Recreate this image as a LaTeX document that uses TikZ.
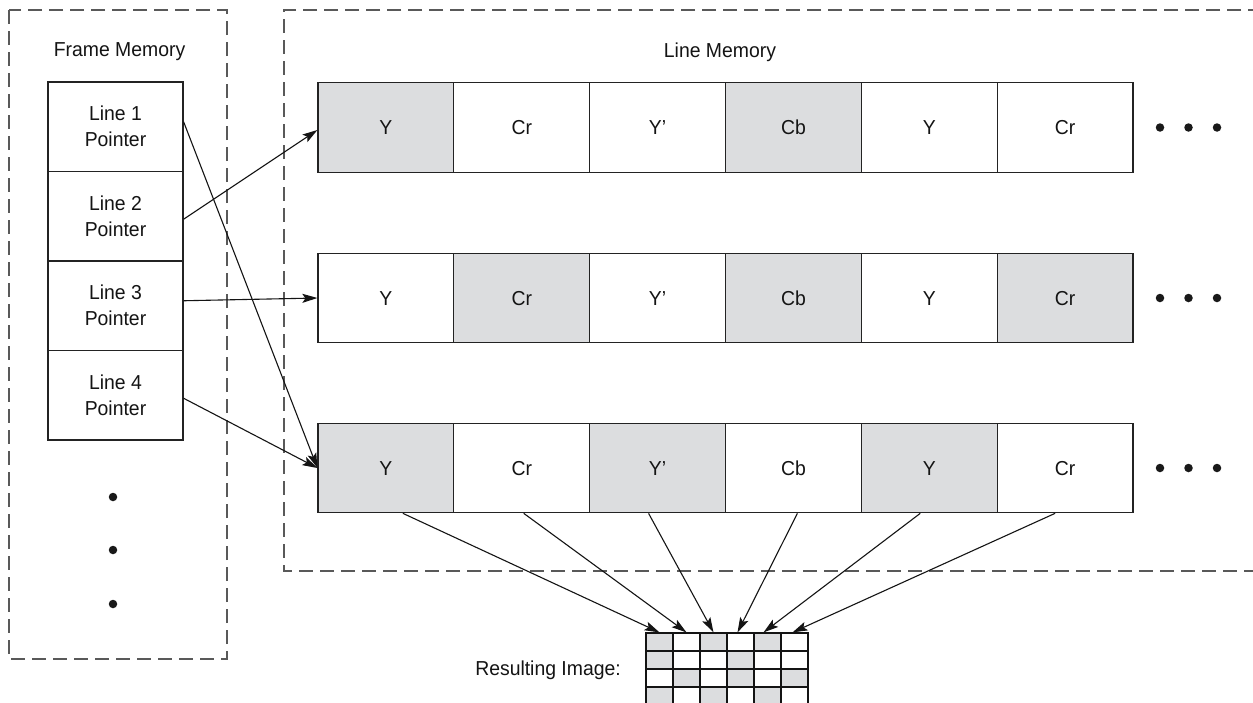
\documentclass[tikz,border=0pt]{standalone}
\usepackage{fontspec}
\setmainfont{Liberation Sans}[FakeStretch=0.96]
\usetikzlibrary{arrows.meta,calc}
\definecolor{cellgray}{RGB}{220,221,223}
\definecolor{edge}{RGB}{35,35,35}
\begin{document}
\begin{tikzpicture}[x=1pt,y=-1pt,
  lbl/.style={font=\fontsize{20.2}{23}\selectfont, text=black!92, inner sep=0pt},
  cellbox/.style={draw=edge, line width=1.2pt, minimum width=135.83pt, minimum height=89.5pt, inner sep=0pt, text height=14.5pt, text depth=0pt, font=\fontsize{20.2}{23}\selectfont, text=black!92},
  ptrbox/.style={draw=edge, line width=1.2pt, minimum width=135pt, minimum height=89.5pt, inner sep=0pt, align=center, font=\fontsize{20.2}{26}\selectfont, text=black!92},
  gridcell/.style={draw=black!92, line width=1.2pt, minimum width=27pt, minimum height=18pt, inner sep=0pt},
  memframe/.style={draw=black!65, line width=1.1pt, dash pattern=on 14pt off 7pt},
  ptr/.style={-{Stealth[length=15pt,width=9pt,inset=3pt]}, line width=1.1pt, draw=black!92},
  bullet/.style={circle, fill=black!90, minimum size=8.5pt, inner sep=0pt},
]
\useasboundingbox (0,0) rectangle (1253,702);
\clip (0,0) rectangle (1253,702);
\fill[white] (0,0) rectangle (1253,702);

% Frame memory
\draw[memframe] (9,10) rectangle (227,659);
\node[lbl] (fmt) at (119.5,52) {Frame Memory};
\node[ptrbox] (p1) at (115.5,126.75) {Line 1\\Pointer};
\node[ptrbox] (p2) at (115.5,216.25) {Line 2\\Pointer};
\node[ptrbox] (p3) at (115.5,305.75) {Line 3\\Pointer};
\node[ptrbox] (p4) at (115.5,395.25) {Line 4\\Pointer};
\node[bullet] (fd1) at (113,497) {};
\node[bullet] (fd2) at (113,550) {};
\node[bullet] (fd3) at (113,604) {};

% Line memory
\draw[memframe] (1262,10) -- (284,10) -- (284,571) -- (1262,571);
\node[lbl] (lmt) at (720,52) {Line Memory};

\foreach \c/\t/\f in {1/Y/cellgray,2/Cr/white,3/Y'/white,4/Cb/cellgray,5/Y/white,6/Cr/white}
  {\node[cellbox, fill=\f] (r1c\c) at ({318+135.83*(\c-0.5)},127.5) {\t};}
\foreach \c/\t/\f in {1/Y/white,2/Cr/cellgray,3/Y'/white,4/Cb/cellgray,5/Y/white,6/Cr/cellgray}
  {\node[cellbox, fill=\f] (r2c\c) at ({318+135.83*(\c-0.5)},298) {\t};}
\foreach \c/\t/\f in {1/Y/cellgray,2/Cr/white,3/Y'/cellgray,4/Cb/white,5/Y/cellgray,6/Cr/white}
  {\node[cellbox, fill=\f] (r3c\c) at ({318+135.83*(\c-0.5)},468) {\t};}

\foreach \r/\y in {1/127.5,2/298,3/468}{
  \node[bullet] (d\r a) at (1160,\y) {};
  \node[bullet] (d\r b) at (1188.5,\y) {};
  \node[bullet] (d\r c) at (1217,\y) {};
}

% Resulting image grid
\foreach \c/\f in {1/cellgray,2/white,3/cellgray,4/white,5/cellgray,6/white}
  {\node[gridcell, fill=\f] (g1\c) at ({646+27*(\c-0.5)},642) {};}
\foreach \c/\f in {1/cellgray,2/white,3/white,4/cellgray,5/white,6/white}
  {\node[gridcell, fill=\f] (g2\c) at ({646+27*(\c-0.5)},660) {};}
\foreach \c/\f in {1/white,2/cellgray,3/white,4/cellgray,5/white,6/cellgray}
  {\node[gridcell, fill=\f] (g3\c) at ({646+27*(\c-0.5)},678) {};}
\foreach \c/\f in {1/cellgray,2/white,3/cellgray,4/white,5/cellgray,6/white}
  {\node[gridcell, fill=\f] (g4\c) at ({646+27*(\c-0.5)},696) {};}
\node[lbl, anchor=east] (ri) at (621,670) {Resulting Image:};

% Pointer arrows
\draw[ptr] ($(p1.east)+(0,-5)$) -- (r3c1.west);
\draw[ptr] ($(p2.east)+(0,3)$) -- ($(r1c1.west)+(0,2.5)$);
\draw[ptr] ($(p3.east)+(0,-5)$) -- (r2c1.west);
\draw[ptr] ($(p4.east)+(0,3)$) -- (r3c1.west);

% Arrows to resulting image
\draw[ptr] ($(r3c1.south)+(17,0)$) -- (g11.north);
\draw[ptr] ($(r3c2.south)+(2,0)$) -- (g12.north);
\draw[ptr] ($(r3c3.south)+(-9,0)$) -- (g13.north);
\draw[ptr] ($(r3c4.south)+(4,0)$) -- ($(g14.north)+(-3,0)$);
\draw[ptr] ($(r3c5.south)+(-9,0)$) -- ($(g15.north)+(-4,0)$);
\draw[ptr] ($(r3c6.south)+(-10,0)$) -- ($(g16.north)+(-2,0)$);
\end{tikzpicture}
\end{document}
